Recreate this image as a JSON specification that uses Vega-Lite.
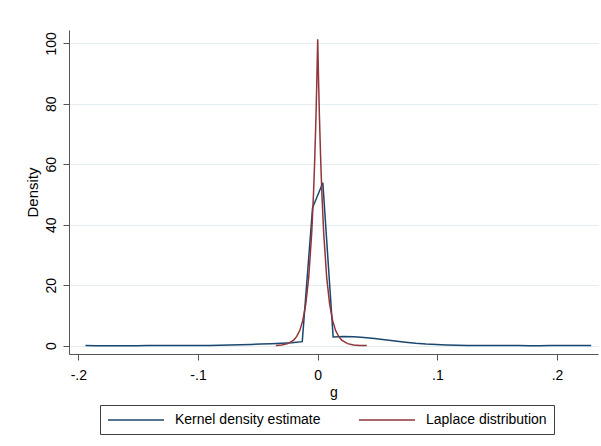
{
  "$schema": "https://vega.github.io/schema/vega-lite/v6.json",
  "width": 529,
  "height": 324,
  "autosize": {"type": "none"},
  "padding": {"left": 69, "top": 30, "right": 3, "bottom": 92},
  "background": "white",
  "config": {
    "view": {"stroke": null},
    "font": "Liberation Sans",
    "legend": {"strokeWidth": 1}
  },
  "data": {
    "values": [
      {"series": "Kernel density estimate", "g": -0.1940, "density": 0.04},
      {"series": "Kernel density estimate", "g": -0.1854, "density": 0.02},
      {"series": "Kernel density estimate", "g": -0.1768, "density": 0.0},
      {"series": "Kernel density estimate", "g": -0.1681, "density": 0.0},
      {"series": "Kernel density estimate", "g": -0.1595, "density": 0.01},
      {"series": "Kernel density estimate", "g": -0.1509, "density": 0.02},
      {"series": "Kernel density estimate", "g": -0.1423, "density": 0.03},
      {"series": "Kernel density estimate", "g": -0.1336, "density": 0.03},
      {"series": "Kernel density estimate", "g": -0.1250, "density": 0.04},
      {"series": "Kernel density estimate", "g": -0.1164, "density": 0.05},
      {"series": "Kernel density estimate", "g": -0.1078, "density": 0.06},
      {"series": "Kernel density estimate", "g": -0.0992, "density": 0.08},
      {"series": "Kernel density estimate", "g": -0.0905, "density": 0.10},
      {"series": "Kernel density estimate", "g": -0.0819, "density": 0.15},
      {"series": "Kernel density estimate", "g": -0.0733, "density": 0.22},
      {"series": "Kernel density estimate", "g": -0.0647, "density": 0.30},
      {"series": "Kernel density estimate", "g": -0.0560, "density": 0.42},
      {"series": "Kernel density estimate", "g": -0.0474, "density": 0.55},
      {"series": "Kernel density estimate", "g": -0.0388, "density": 0.68},
      {"series": "Kernel density estimate", "g": -0.0302, "density": 0.82},
      {"series": "Kernel density estimate", "g": -0.0216, "density": 0.98},
      {"series": "Kernel density estimate", "g": -0.0129, "density": 1.35},
      {"series": "Kernel density estimate", "g": -0.0043, "density": 45.6},
      {"series": "Kernel density estimate", "g": 0.0043, "density": 53.9},
      {"series": "Kernel density estimate", "g": 0.0129, "density": 2.9},
      {"series": "Kernel density estimate", "g": 0.0216, "density": 3.05},
      {"series": "Kernel density estimate", "g": 0.0302, "density": 2.95},
      {"series": "Kernel density estimate", "g": 0.0388, "density": 2.75},
      {"series": "Kernel density estimate", "g": 0.0474, "density": 2.4},
      {"series": "Kernel density estimate", "g": 0.0560, "density": 2.0},
      {"series": "Kernel density estimate", "g": 0.0647, "density": 1.55},
      {"series": "Kernel density estimate", "g": 0.0733, "density": 1.15},
      {"series": "Kernel density estimate", "g": 0.0819, "density": 0.8},
      {"series": "Kernel density estimate", "g": 0.0905, "density": 0.55},
      {"series": "Kernel density estimate", "g": 0.0992, "density": 0.38},
      {"series": "Kernel density estimate", "g": 0.1078, "density": 0.25},
      {"series": "Kernel density estimate", "g": 0.1164, "density": 0.16},
      {"series": "Kernel density estimate", "g": 0.1250, "density": 0.10},
      {"series": "Kernel density estimate", "g": 0.1336, "density": 0.08},
      {"series": "Kernel density estimate", "g": 0.1423, "density": 0.07},
      {"series": "Kernel density estimate", "g": 0.1509, "density": 0.08},
      {"series": "Kernel density estimate", "g": 0.1595, "density": 0.07},
      {"series": "Kernel density estimate", "g": 0.1681, "density": 0.05},
      {"series": "Kernel density estimate", "g": 0.1768, "density": 0.02},
      {"series": "Kernel density estimate", "g": 0.1854, "density": 0.01},
      {"series": "Kernel density estimate", "g": 0.1940, "density": 0.03},
      {"series": "Kernel density estimate", "g": 0.2026, "density": 0.05},
      {"series": "Kernel density estimate", "g": 0.2112, "density": 0.04},
      {"series": "Kernel density estimate", "g": 0.2199, "density": 0.03},
      {"series": "Kernel density estimate", "g": 0.2285, "density": 0.05},
      {"series": "Laplace distribution", "g": -0.035, "density": 0.09},
      {"series": "Laplace distribution", "g": -0.030, "density": 0.25},
      {"series": "Laplace distribution", "g": -0.025, "density": 0.68},
      {"series": "Laplace distribution", "g": -0.020, "density": 1.86},
      {"series": "Laplace distribution", "g": -0.0175, "density": 3.06},
      {"series": "Laplace distribution", "g": -0.015, "density": 5.0},
      {"series": "Laplace distribution", "g": -0.0125, "density": 8.3},
      {"series": "Laplace distribution", "g": -0.010, "density": 13.7},
      {"series": "Laplace distribution", "g": -0.0075, "density": 22.6},
      {"series": "Laplace distribution", "g": -0.005, "density": 37.3},
      {"series": "Laplace distribution", "g": -0.0035, "density": 50.3},
      {"series": "Laplace distribution", "g": -0.0025, "density": 61.4},
      {"series": "Laplace distribution", "g": -0.0015, "density": 75.0},
      {"series": "Laplace distribution", "g": -0.0008, "density": 86.3},
      {"series": "Laplace distribution", "g": 0.0, "density": 101.3},
      {"series": "Laplace distribution", "g": 0.0008, "density": 86.3},
      {"series": "Laplace distribution", "g": 0.0015, "density": 75.0},
      {"series": "Laplace distribution", "g": 0.0025, "density": 61.4},
      {"series": "Laplace distribution", "g": 0.0035, "density": 50.3},
      {"series": "Laplace distribution", "g": 0.005, "density": 37.3},
      {"series": "Laplace distribution", "g": 0.0075, "density": 22.6},
      {"series": "Laplace distribution", "g": 0.010, "density": 13.7},
      {"series": "Laplace distribution", "g": 0.0125, "density": 8.3},
      {"series": "Laplace distribution", "g": 0.015, "density": 5.0},
      {"series": "Laplace distribution", "g": 0.0175, "density": 3.06},
      {"series": "Laplace distribution", "g": 0.020, "density": 1.86},
      {"series": "Laplace distribution", "g": 0.025, "density": 0.68},
      {"series": "Laplace distribution", "g": 0.030, "density": 0.25},
      {"series": "Laplace distribution", "g": 0.035, "density": 0.09},
      {"series": "Laplace distribution", "g": 0.041, "density": 0.03}
    ]
  },
  "mark": {"type": "line", "strokeWidth": 1.5, "clip": true},
  "encoding": {
    "x": {
      "field": "g",
      "type": "quantitative",
      "scale": {"domain": [-0.2078, 0.2342], "nice": false, "zero": false},
      "axis": {
        "values": [-0.2, -0.1, 0, 0.1, 0.2],
        "labelExpr": "datum.value == 0 ? '0' : (datum.value < 0 ? '-' : '') + '.' + toString(round(abs(datum.value) * 10))",
        "title": "g",
        "grid": false,
        "domainColor": "#555555",
        "domainWidth": 1,
        "tickColor": "#555555",
        "tickSize": 6,
        "labelFontSize": 14,
        "labelColor": "black",
        "labelPadding": 8,
        "labelFlush": false,
        "titleFontSize": 14,
        "titleFontWeight": "normal",
        "titleColor": "black",
        "titlePadding": 3
      }
    },
    "y": {
      "field": "density",
      "type": "quantitative",
      "scale": {"domain": [-2.74, 104.4], "nice": false, "zero": false},
      "axis": {
        "values": [0, 20, 40, 60, 80, 100],
        "title": "Density",
        "grid": true,
        "gridColor": "#e3edf1",
        "gridWidth": 1,
        "domainColor": "#555555",
        "domainWidth": 1,
        "tickColor": "#555555",
        "tickSize": 6,
        "labelAngle": -90,
        "labelAlign": "center",
        "labelBaseline": "bottom",
        "labelFontSize": 14,
        "labelColor": "black",
        "labelPadding": 5,
        "labelFlush": false,
        "titleFontSize": 15,
        "titleFontWeight": "normal",
        "titleColor": "black",
        "titlePadding": 4
      }
    },
    "color": {
      "field": "series",
      "type": "nominal",
      "scale": {
        "domain": ["Kernel density estimate", "Laplace distribution"],
        "range": ["#1a476f", "#90353b"]
      },
      "legend": {
        "orient": "none",
        "legendX": 31,
        "legendY": 375,
        "direction": "horizontal",
        "title": null,
        "symbolType": "M-1,0H7",
        "symbolSize": 196,
        "symbolStrokeWidth": 1.5,
        "labelFontSize": 14,
        "labelColor": "black",
        "labelOffset": 52,
        "columnPadding": 35,
        "padding": 7,
        "strokeColor": "#404040",
        "fillColor": "white"
      }
    }
  }
}
